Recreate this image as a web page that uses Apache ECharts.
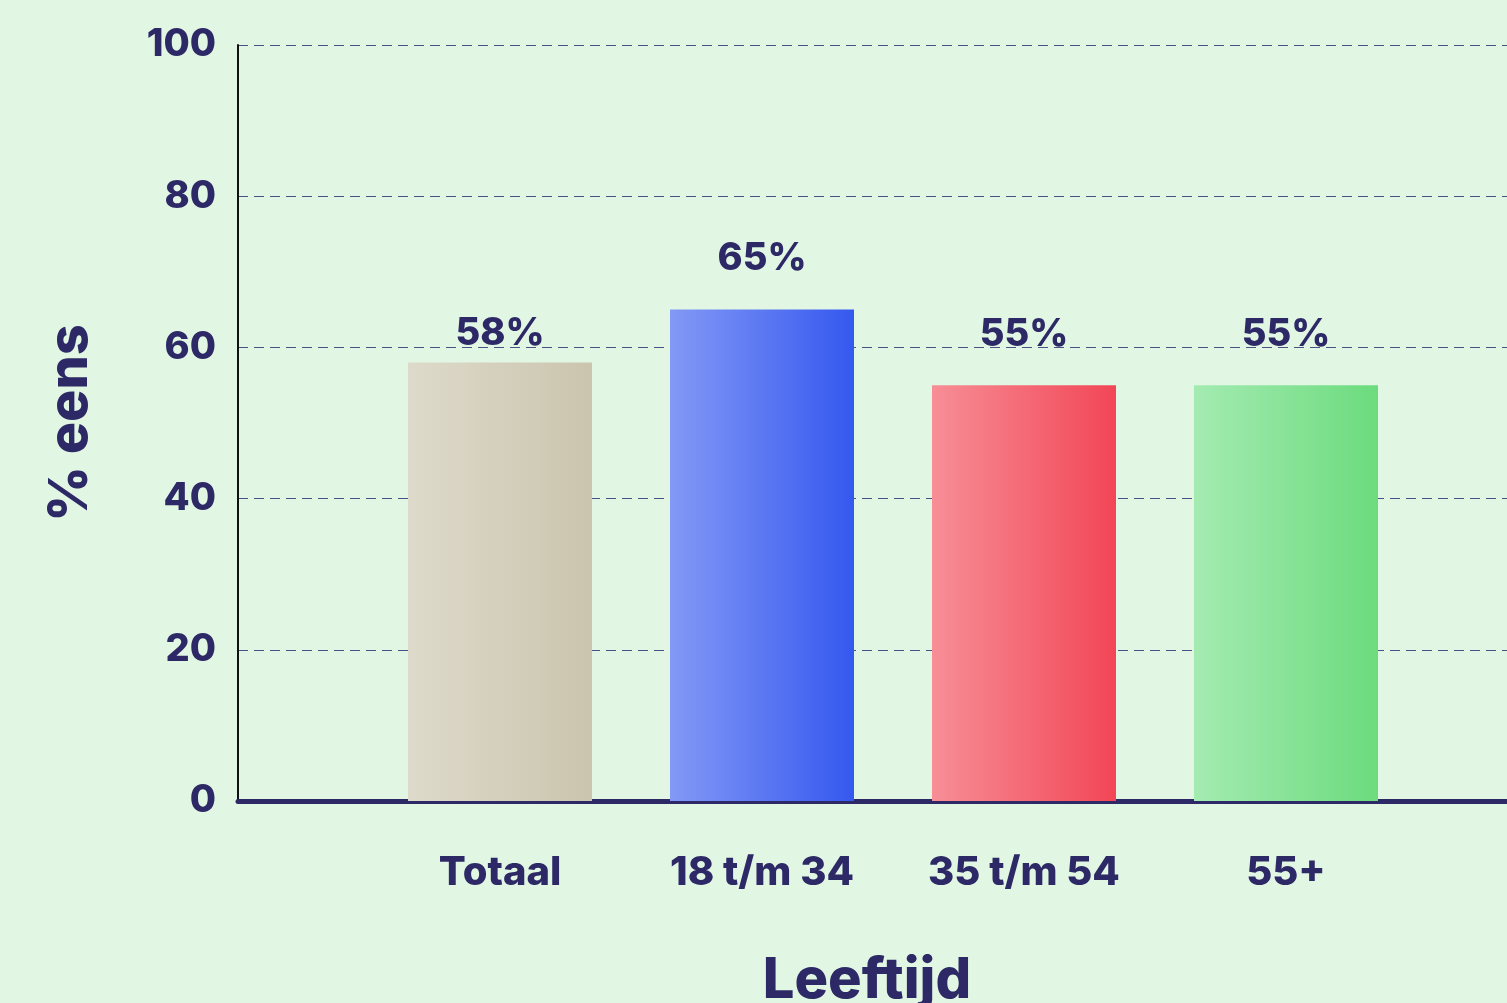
<!DOCTYPE html>
<html>
<head>
<meta charset="utf-8">
<script src="https://cdn.jsdelivr.net/npm/echarts@6/dist/echarts.min.js"></script>
<style>
html,body{margin:0;padding:0;background:#E1F7E3;overflow:hidden;}
#chart{width:1507px;height:1003px;}
</style>
</head>
<body>
<div id="chart"></div>
<script>
const categories = ['', 'Totaal', '18 t/m 34', '35 t/m 54', '55+', ''];
const values = [null, 58, 65, 55, 55, null];
const yTicks = [0, 20, 40, 60, 80, 100];
const gradients = [
  null,
  ['#DEDACB', '#CBC5AE'],
  ['#8399F6', '#3558EF'],
  ['#F78E96', '#F24656'],
  ['#A4EBB2', '#6CDB7D'],
  null
];
// label gap above each bar (style only)
const labelGaps = [0, 10, 32, 32, 32, 0];

const navy = '#2D2966';
const fontFam = 'Inter, "Noto Sans", sans-serif';

const chart = echarts.init(document.getElementById('chart'));
const data = values.map((v, i) => {
  if (v === null) return null;
  return {
    value: v,
    label: { distance: labelGaps[i] },
    itemStyle: {
      color: new echarts.graphic.LinearGradient(0, 0, 1, 0, [
        { offset: 0, color: gradients[i][0] },
        { offset: 1, color: gradients[i][1] }
      ])
    }
  };
});

chart.setOption({
  backgroundColor: '#E1F7E3',
  animation: false,
  grid: { left: 238, width: 1310, top: 45, height: 756, containLabel: false, outerBoundsMode: 'none' },
  xAxis: {
    type: 'category',
    data: categories,
    boundaryGap: false,
    axisLine: { show: true, lineStyle: { color: navy, width: 5 } },
    axisTick: { show: false },
    axisLabel: { color: navy, fontSize: 40, fontWeight: 800, fontFamily: fontFam, margin: 52, interval: 0 },
    splitLine: { show: false },
    name: 'Leeftijd',
    nameLocation: 'middle',
    nameGap: 152,
    nameTextStyle: { color: navy, fontSize: 56, fontWeight: 800, fontFamily: fontFam, padding: [0, 52, 0, 0] }
  },
  yAxis: {
    type: 'value',
    min: yTicks[0],
    max: yTicks[yTicks.length - 1],
    interval: 20,
    axisLine: { show: true, lineStyle: { color: '#111', width: 2 } },
    axisTick: { show: false },
    axisLabel: { color: navy, fontSize: 38, fontWeight: 800, fontFamily: fontFam, margin: 22 },
    splitLine: { show: true, lineStyle: { color: '#4A4F86', width: 1.2, type: [10, 6] } },
    name: '% eens',
    nameLocation: 'middle',
    nameGap: 140,
    nameRotate: 90,
    nameTextStyle: { color: navy, fontSize: 54, fontWeight: 800, fontFamily: fontFam }
  },
  series: [{
    type: 'bar',
    data: data,
    barWidth: 184,
    label: {
      show: true,
      position: 'top',
      distance: 14,
      formatter: p => p.value + '%',
      color: navy,
      fontSize: 38,
      fontWeight: 800,
      fontFamily: fontFam
    }
  }]
});
</script>
</body>
</html>
